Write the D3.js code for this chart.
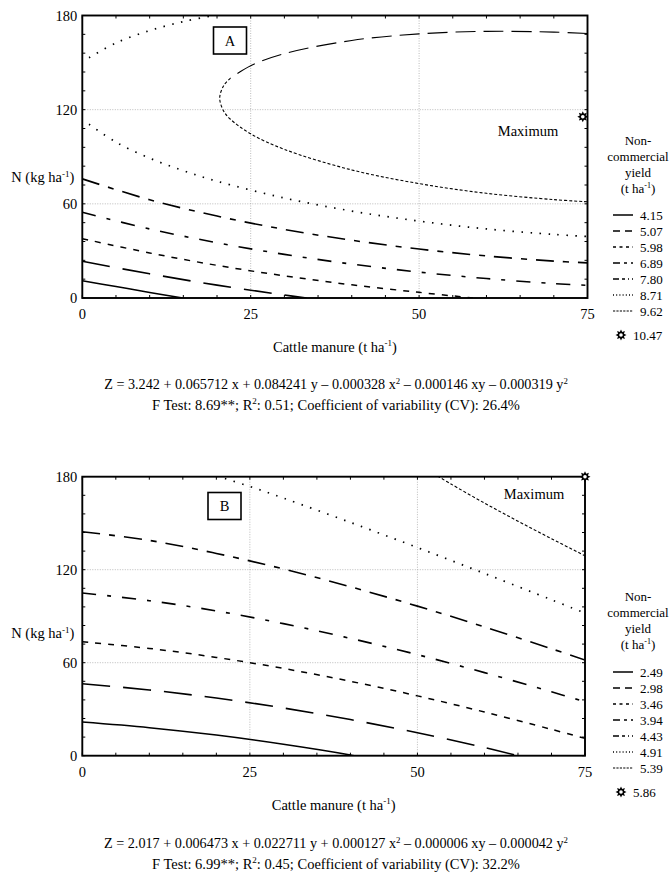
<!DOCTYPE html>
<html><head><meta charset="utf-8">
<script src="https://cdn.jsdelivr.net/npm/d3@7"></script>
<style>
body{margin:0;background:#fff}
svg text{font-family:'Liberation Serif','Tinos','Times New Roman','DejaVu Serif',serif;fill:#000}
</style>
</head><body>
<svg id="chart" width="672" height="877" font-family="Liberation Serif, Times New Roman, serif"></svg>
<script>
// ---------- DATA ----------
const xTicks = [0, 25, 50, 75];
const yTicks = [0, 60, 120, 180];
const xMinorStep = 5;
const yMinorStep = 12;

// Panel A contour levels (t ha-1) and maximum
const levelsA = ["4.15", "5.07", "5.98", "6.89", "7.80", "8.71", "9.62"];
const maxLevelA = "10.47";
const maxPointA = [74.3, 115.5];

// Panel A contours, [cattle manure, N] pairs
const a415 = [[0, 11.0], [5, 7.3], [10, 3.5], [14.9, 0]];
const a507 = [[0, 23.4], [10, 15.4], [20, 8.2], [30, 1.9], [33.3, 0]];
const a598 = [[0, 37.8], [10, 28.7], [20, 20.8], [30, 14.1], [40, 8.4], [50, 3.6], [58, 0]];
const a689 = [[0, 54.6], [10, 44.0], [20, 35.2], [30, 27.8], [40, 21.6], [50, 16.5], [60, 12.4], [70, 9.2], [75, 8.1]];
const a780 = [[0, 75.9], [10, 62.6], [20, 52.2], [30, 43.7], [40, 36.8], [50, 31.2], [60, 26.8], [70, 23.5], [75, 22.4]];
const a871Upper = [[1, 153.1], [5, 162.5], [10, 170.4], [15, 176.1], [19.5, 180]];
const a871Lower = [[1, 110.7], [5, 99.3], [10, 89.1], [15, 81.1], [20, 74.4], [30, 63.7], [40, 55.4], [50, 49.0], [60, 44.0], [70, 40.5], [75, 39.2]];
const a962Upper = [[75, 168.5], [70, 169.4], [60, 169.9], [50, 168.3], [40, 164.1], [30, 155.7], [25, 148.0], [22, 140.1]];
const a962Lower = [[22, 140.1], [21, 135.4], [20.4, 127.4], [21, 119.0], [22, 113.9], [25, 104.6], [30, 94.7], [40, 81.6], [50, 72.9], [60, 66.7], [70, 62.7], [75, 61.3]];

// Panel B contour levels and maximum
const levelsB = ["2.49", "2.98", "3.46", "3.94", "4.43", "4.91", "5.39"];
const maxLevelB = "5.86";
const maxPointB = [75, 180];

const b249 = [[0, 21.7], [10, 18.1], [20, 13.3], [30, 7.4], [40, 0.5], [40.6, 0]];
const b298 = [[0, 46.4], [10, 42.4], [20, 37.2], [30, 30.8], [40, 23.3], [50, 14.8], [60, 5.3], [65, 0]];
const b346 = [[0, 73.5], [10, 69.2], [20, 63.4], [30, 56.3], [40, 48.0], [50, 38.6], [60, 28.2], [70, 17.0], [75, 11.2]];
const b394 = [[0, 105.0], [10, 100.0], [20, 93.4], [30, 85.2], [40, 75.7], [50, 65.2], [60, 53.6], [70, 41.2], [75, 34.8]];
const b443 = [[0, 144.5], [10, 138.9], [20, 130.5], [30, 120.5], [40, 109.0], [50, 96.5], [60, 83.1], [70, 69.0], [75, 61.7]];
const b491 = [[20, 180.5], [25, 173.7], [30, 166.2], [40, 150.5], [50, 134.3], [60, 117.6], [70, 100.6], [75, 92.0]];
const b539 = [[53, 180.4], [55, 175.3], [60, 163.0], [65, 151.3], [70, 140.0], [75, 129.0]];

// Text
const eqA = ["Z = 3.242 + 0.065712 x + 0.084241 y – 0.000328 x", "2", " – 0.000146 xy – 0.000319 y", "2"];
const statA = ["F Test: 8.69**; R", "2", ": 0.51; Coefficient of variability (CV): 26.4%"];
const eqB = ["Z = 2.017 + 0.006473 x + 0.022711 y + 0.000127 x", "2", " – 0.000006 xy – 0.000042 y", "2"];
const statB = ["F Test: 6.99**; R", "2", ": 0.45; Coefficient of variability (CV): 32.2%"];

// ---------- STYLES ----------
const lineStyles = [
  {dash: null, w: 1.5},
  {dash: "28,13", w: 1.6},
  {dash: "6,7", w: 1.5},
  {dash: "14,11,4,11", w: 1.6},
  {dash: "18,9,6,9", w: 1.6},
  {dash: "1.5,7.5", w: 1.7},
  {dash: "3,2", w: 1.1}
];
const legendDash = [null, "7,5", "3,3.5", "7,4,3,4", "6,3,3,3,1,3", "1,2.2", "2.2,1.2"];
const upperDash962 = "20,8";

const svg = d3.select("#chart");
const FF = "'Liberation Serif','Tinos','Times New Roman','DejaVu Serif',serif";
const font = 14.5;
const eqFont = 14.2;

function starPath(cx, cy, r1, r2) {
  const n = 8, pts = [];
  for (let i = 0; i < n * 2; i++) {
    const r = i % 2 === 0 ? r1 : r2;
    const a = Math.PI * i / n - Math.PI / 2;
    pts.push([cx + r * Math.cos(a), cy + r * Math.sin(a)]);
  }
  return "M" + pts.map(p => p.join(",")).join("L") + "Z";
}
function drawStar(g, cx, cy) {
  g.append("path").attr("d", starPath(cx, cy, 5.5, 3.2)).attr("fill", "#000");
  g.append("circle").attr("cx", cx).attr("cy", cy).attr("r", 1.8).attr("fill", "#fff");
}
function txt(g) {
  return g.append("text").style("font-family", FF);
}
function supText(g, x, y, parts, size, anchor) {
  const t = txt(g).attr("x", x).attr("y", y).attr("font-size", size)
    .attr("text-anchor", anchor || "middle");
  parts.forEach((p, i) => {
    if (i % 2 === 1) {
      t.append("tspan").attr("dy", -size * 0.38).attr("font-size", size * 0.62).text(p);
    } else {
      t.append("tspan").attr("dy", i === 0 ? 0 : size * 0.38).text(p);
    }
  });
  return t;
}

function panel(cfg) {
  const g = svg.append("g");
  const x = d3.scaleLinear().domain([0, 75]).range([cfg.left, cfg.right]);
  const y = d3.scaleLinear().domain([0, 180]).range([cfg.bottom, cfg.top]);
  const clipId = "clip" + cfg.name;
  svg.append("clipPath").attr("id", clipId).append("rect")
    .attr("x", cfg.left).attr("y", cfg.top)
    .attr("width", cfg.right - cfg.left).attr("height", cfg.bottom - cfg.top);

  // grid
  g.selectAll(".gx").data([25, 50]).join("line")
    .attr("x1", d => x(d)).attr("x2", d => x(d)).attr("y1", cfg.top).attr("y2", cfg.bottom)
    .attr("stroke", "#aaa").attr("stroke-width", 0.8).attr("stroke-dasharray", "1,1.5");
  g.selectAll(".gy").data([60, 120]).join("line")
    .attr("y1", d => y(d)).attr("y2", d => y(d)).attr("x1", cfg.left).attr("x2", cfg.right)
    .attr("stroke", "#aaa").attr("stroke-width", 0.8).attr("stroke-dasharray", "1,1.5");

  // contours
  const line = d3.line().x(d => x(d[0])).y(d => y(d[1])).curve(d3.curveCatmullRom.alpha(0.5));
  const cg = g.append("g").attr("clip-path", `url(#${clipId})`).attr("fill", "none").attr("stroke", "#000");
  cfg.contours.forEach(c => {
    const st = lineStyles[c.level];
    cg.append("path").attr("d", line(c.pts))
      .attr("stroke-width", st.w)
      .attr("stroke-dasharray", c.dash || st.dash);
  });

  // frame
  g.append("rect").attr("x", cfg.left).attr("y", cfg.top)
    .attr("width", cfg.right - cfg.left).attr("height", cfg.bottom - cfg.top)
    .attr("fill", "none").attr("stroke", "#000").attr("stroke-width", 1.9);

  // inward minor ticks all sides
  const xm = d3.range(0, 75 + 0.01, xMinorStep);
  const ym = d3.range(0, 180 + 0.01, yMinorStep);
  const tk = 3;
  g.selectAll(".tb").data(xm).join("line")
    .attr("x1", d => x(d)).attr("x2", d => x(d)).attr("y1", cfg.bottom).attr("y2", cfg.bottom - tk)
    .attr("stroke", "#000").attr("stroke-width", 1);
  g.selectAll(".tt").data(xm).join("line")
    .attr("x1", d => x(d)).attr("x2", d => x(d)).attr("y1", cfg.top).attr("y2", cfg.top + tk)
    .attr("stroke", "#000").attr("stroke-width", 1);
  g.selectAll(".tl").data(ym).join("line")
    .attr("y1", d => y(d)).attr("y2", d => y(d)).attr("x1", cfg.left).attr("x2", cfg.left + tk)
    .attr("stroke", "#000").attr("stroke-width", 1);
  g.selectAll(".tr").data(ym).join("line")
    .attr("y1", d => y(d)).attr("y2", d => y(d)).attr("x1", cfg.right).attr("x2", cfg.right - tk)
    .attr("stroke", "#000").attr("stroke-width", 1);

  // tick labels
  g.selectAll(".xl").data(xTicks).join("text").style("font-family", FF)
    .attr("x", d => x(d)).attr("y", cfg.bottom + 16).attr("dy", "0.35em")
    .attr("text-anchor", "middle").attr("font-size", font).text(d => d);
  g.selectAll(".yl").data(yTicks).join("text").style("font-family", FF)
    .attr("x", cfg.left - 5).attr("y", d => y(d)).attr("dy", "0.35em")
    .attr("text-anchor", "end").attr("font-size", font).text(d => d);

  // axis titles
  supText(g, (cfg.left + cfg.right) / 2, cfg.bottom + 54, ["Cattle manure (t ha", "-1", ")"], font);
  supText(g, cfg.left - 8, y(cfg.yTitleAt) + 5, ["N (kg ha", "-1", ")"], font, "end");

  // panel label box
  g.append("rect").attr("x", cfg.box[0]).attr("y", cfg.box[1]).attr("width", 33).attr("height", 27)
    .attr("fill", "#fff").attr("stroke", "#000").attr("stroke-width", 1.6);
  txt(g).attr("x", cfg.box[0] + 16.5).attr("y", cfg.box[1] + 13.5).attr("dy", "0.35em")
    .attr("text-anchor", "middle").attr("font-size", font).text(cfg.name);

  // maximum
  drawStar(g, x(cfg.maxPt[0]), y(cfg.maxPt[1]));
  txt(g).attr("x", cfg.maxText[0]).attr("y", cfg.maxText[1]).attr("dy", "0.35em")
    .attr("text-anchor", "middle").attr("font-size", font).text("Maximum");

  // legend
  const lx = 638, lf = 13;
  ["Non-", "commercial", "yield"].forEach((s, i) => {
    txt(g).attr("x", lx).attr("y", cfg.legTop + i * 16).attr("dy", "0.35em")
      .attr("text-anchor", "middle").attr("font-size", lf).text(s);
  });
  supText(g, lx, cfg.legTop + 3 * 16 + 4.5, ["(t ha", "-1", ")"], lf);
  cfg.levels.forEach((lv, i) => {
    const yy = cfg.legItems + i * 16;
    g.append("line").attr("x1", 613).attr("x2", 633).attr("y1", yy).attr("y2", yy)
      .attr("stroke", "#000").attr("stroke-width", lineStyles[i].w)
      .attr("stroke-dasharray", legendDash[i]);
    txt(g).attr("x", 640).attr("y", yy).attr("dy", "0.35em").attr("font-size", lf).text(lv);
  });
  const sy = cfg.legItems + 6 * 16 + 24;
  drawStar(g, 621, sy);
  txt(g).attr("x", 633).attr("y", sy).attr("dy", "0.35em").attr("font-size", lf).text(cfg.maxLevel);

  // equations
  supText(g, 336, cfg.eqY, cfg.eq, eqFont);
  supText(g, 336, cfg.eqY + 21, cfg.stat, font);
}

panel({
  name: "A", left: 82.3, right: 587.5, top: 15.5, bottom: 298, yTitleAt: 77,
  contours: [
    {level: 0, pts: a415}, {level: 1, pts: a507}, {level: 2, pts: a598},
    {level: 3, pts: a689}, {level: 4, pts: a780},
    {level: 5, pts: a871Upper}, {level: 5, pts: a871Lower},
    {level: 6, pts: a962Upper, dash: upperDash962}, {level: 6, pts: a962Lower}
  ],
  box: [213.5, 27], maxPt: maxPointA, maxText: [528, 130.5],
  levels: levelsA, maxLevel: maxLevelA, legTop: 140, legItems: 215,
  eq: eqA, stat: statA, eqY: 389
});

panel({
  name: "B", left: 82.3, right: 585, top: 476.7, bottom: 755.7, yTitleAt: 79,
  contours: [
    {level: 0, pts: b249}, {level: 1, pts: b298}, {level: 2, pts: b346},
    {level: 3, pts: b394}, {level: 4, pts: b443}, {level: 5, pts: b491}, {level: 6, pts: b539}
  ],
  box: [208, 492.5], maxPt: maxPointB, maxText: [534, 494],
  levels: levelsB, maxLevel: maxLevelB, legTop: 596, legItems: 672,
  eq: eqB, stat: statB, eqY: 848
});
</script>
</body></html>
